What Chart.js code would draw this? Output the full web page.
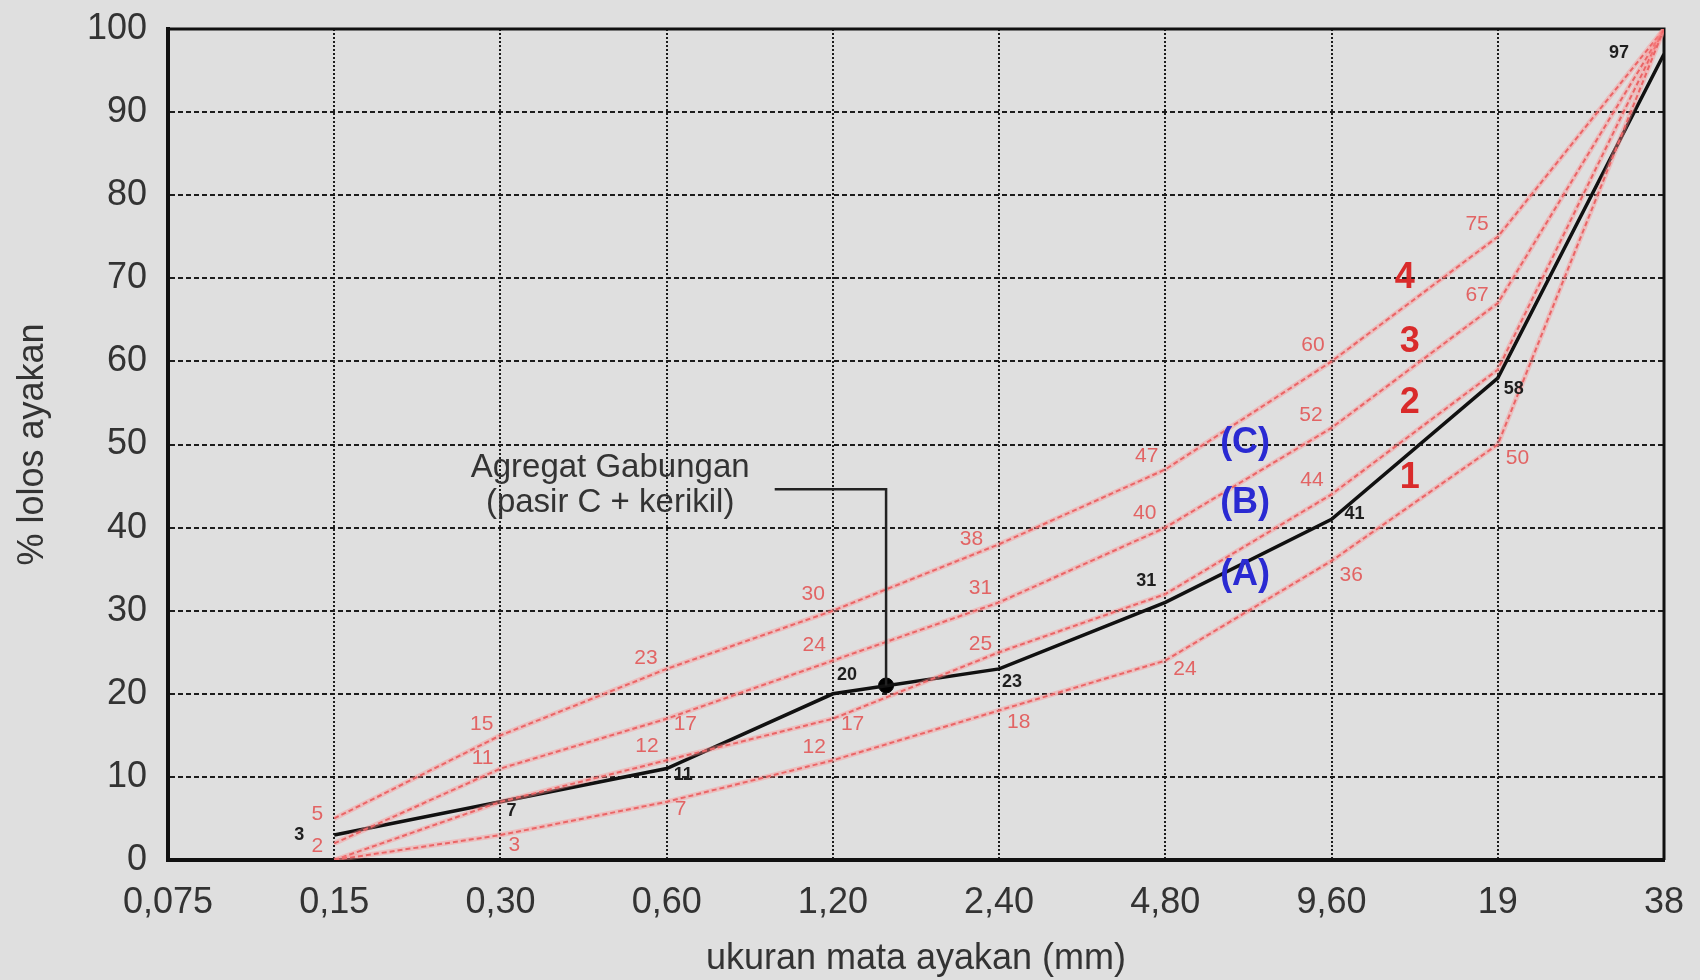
<!DOCTYPE html>
<html>
<head>
<meta charset="utf-8">
<title>Gradasi agregat gabungan</title>
<script src="https://cdn.jsdelivr.net/npm/chart.js@4/dist/chart.umd.min.js"></script>
<style>
  html, body { margin: 0; padding: 0; background: #dfdfdf; }
  #wrap { width: 1700px; height: 980px; }
</style>
</head>
<body>
<div id="wrap"><canvas id="grading" width="1700" height="980"></canvas></div>
<script>
// sieve sizes (mm), equally spaced on the x axis
const sieveLabels = ['0,075', '0,15', '0,30', '0,60', '1,20', '2,40', '4,80', '9,60', '19', '38'];
const yTicks = [0, 10, 20, 30, 40, 50, 60, 70, 80, 90, 100];

// grading curves 1..4 (% lolos), first sieve has no value
const curve1 = [null, 0, 3, 7, 12, 18, 24, 36, 50, 100];
const curve2 = [null, 0, 7, 12, 17, 25, 32, 44, 59, 100];
const curve3 = [null, 2, 11, 17, 24, 31, 40, 52, 67, 100];
const curve4 = [null, 5, 15, 23, 30, 38, 47, 60, 75, 100];

// combined aggregate (pasir C + kerikil)
const gabungan = [null, 3, 7, 11, 20, 23, 31, 41, 58, 97];
const gabunganMarkerX = 4.32;
const gabunganMarkerY = 21;

// which points get a number written next to them
const labels1 = [false, false, true, true, true, true, true, true, true, false];
const labels2 = [false, false, false, true, true, true, false, true, false, false];
const labels3 = [false, true, true, true, true, true, true, true, true, false];
const labels4 = [false, true, true, true, true, true, true, true, true, false];
const labelsG = [false, true, true, true, true, true, true, true, true, true];

// pixel offsets of those numbers from their point [dx, dy, align]
const off1 = [null, null, [8, 10, 'left'], [8, 7, 'left'], [-7, -13, 'right'], [8, 12, 'left'], [8, 9, 'left'], [8, 14, 'left'], [8, 14, 'left'], null];
const off2 = [null, null, null, [-8, -14, 'right'], [8, 5, 'left'], [-7, -8, 'right'], null, [-8, -14, 'right'], null, null];
const off3 = [null, [-11, 3, 'right'], [-7, -10, 'right'], [7, 5, 'left'], [-7, -15, 'right'], [-7, -14, 'right'], [-9, -14, 'right'], [-9, -13, 'right'], [-9, -8, 'right'], null];
const off4 = [null, [-11, -4, 'right'], [-7, -11, 'right'], [-9, -11, 'right'], [-8, -16, 'right'], [-16, -5, 'right'], [-7, -13, 'right'], [-7, -16, 'right'], [-9, -13, 'right'], null];
const offG = [null, [-30, 0, 'right'], [6, 9, 'left'], [7, 6, 'left'], [4, -19, 'left'], [3, 13, 'left'], [-9, -21, 'right'], [13, -5, 'left'], [6, 11, 'left'], [-35, -1, 'right']];

// curve names and zone names, placed in data coordinates
const curveNames = [
  { text: '4', x: 7.44, y: 70 },
  { text: '3', x: 7.47, y: 62.3 },
  { text: '2', x: 7.47, y: 55 },
  { text: '1', x: 7.47, y: 46 }
];
const zoneNames = [
  { text: '(C)', x: 6.48, y: 50.2 },
  { text: '(B)', x: 6.48, y: 42.9 },
  { text: '(A)', x: 6.48, y: 34.3 }
];
const callout = { lines: ['Agregat Gabungan', '(pasir C + kerikil)'], x: 2.66, y: 45.1, lineFromX: 3.65, lineY: 44.6 };

const FONT = '"Liberation Sans", Arial, sans-serif';

function toPoints(arr) {
  return arr.map((v, i) => ({ x: i, y: v }));
}

const datasets = [];
[[curve1, labels1, off1], [curve2, labels2, off2], [curve3, labels3, off3], [curve4, labels4, off4]].forEach(([vals, lab, off]) => {
  datasets.push({
    data: toPoints(vals),
    borderColor: 'rgba(255, 140, 140, 0.4)',
    borderWidth: 5,
    pointRadius: 0
  });
  datasets.push({
    data: toPoints(vals),
    borderColor: '#dd4b4e',
    borderWidth: 2,
    borderDash: [5, 3],
    pointRadius: 0,
    valueLabels: lab,
    labelOffsets: off,
    labelColor: '#e26464',
    labelFont: '21px ' + FONT
  });
});
datasets.push({
  data: toPoints(gabungan),
  borderColor: '#111',
  borderWidth: 3.5,
  pointRadius: 0,
  valueLabels: labelsG,
  labelOffsets: offG,
  labelColor: '#1e1e1e',
  labelFont: 'bold 18px ' + FONT
});
datasets.push({
  data: [{ x: gabunganMarkerX, y: gabunganMarkerY }],
  showLine: false,
  pointRadius: 7.5,
  pointBackgroundColor: '#000',
  pointBorderColor: '#000'
});

const overlay = {
  id: 'overlay',
  beforeDatasetsDraw(chart) {
    const { ctx, chartArea: a } = chart;
    ctx.save();
    ctx.strokeStyle = '#111';
    ctx.lineWidth = 3;
    ctx.beginPath();
    ctx.moveTo(a.left, a.top);
    ctx.lineTo(a.right, a.top);
    ctx.lineTo(a.right, a.bottom);
    ctx.stroke();
    ctx.restore();
  },
  afterDatasetsDraw(chart) {
    const { ctx, scales: { x, y } } = chart;
    ctx.save();
    // value numbers
    chart.data.datasets.forEach((ds) => {
      if (!ds.valueLabels) return;
      ctx.font = ds.labelFont;
      ctx.fillStyle = ds.labelColor;
      ctx.textBaseline = 'middle';
      ds.data.forEach((p, i) => {
        if (!ds.valueLabels[i] || p.y == null) return;
        const o = ds.labelOffsets[i];
        ctx.textAlign = o[2];
        ctx.fillText(String(p.y), x.getPixelForValue(p.x) + o[0], y.getPixelForValue(p.y) + o[1]);
      });
    });
    // curve numbers
    ctx.textAlign = 'center';
    ctx.font = 'bold 36px ' + FONT;
    ctx.fillStyle = '#d92b2b';
    curveNames.forEach((n) => ctx.fillText(n.text, x.getPixelForValue(n.x), y.getPixelForValue(n.y)));
    ctx.fillStyle = '#2a2ad2';
    zoneNames.forEach((n) => ctx.fillText(n.text, x.getPixelForValue(n.x), y.getPixelForValue(n.y)));
    // callout
    const cx = x.getPixelForValue(callout.x);
    const cy = y.getPixelForValue(callout.y);
    ctx.font = '33px ' + FONT;
    ctx.fillStyle = '#333';
    ctx.fillText(callout.lines[0], cx, cy - 17);
    ctx.fillText(callout.lines[1], cx, cy + 18);
    ctx.strokeStyle = '#222';
    ctx.lineWidth = 2.5;
    ctx.beginPath();
    ctx.moveTo(x.getPixelForValue(callout.lineFromX), y.getPixelForValue(callout.lineY));
    ctx.lineTo(x.getPixelForValue(gabunganMarkerX), y.getPixelForValue(callout.lineY));
    ctx.lineTo(x.getPixelForValue(gabunganMarkerX), y.getPixelForValue(gabunganMarkerY));
    ctx.stroke();
    ctx.restore();
  }
};

new Chart(document.getElementById('grading'), {
  type: 'line',
  data: { datasets: datasets },
  plugins: [overlay],
  options: {
    responsive: false,
    animation: false,
    layout: { padding: { top: 29, right: 36, bottom: 0, left: 0 } },
    plugins: { legend: { display: false }, tooltip: { enabled: false } },
    elements: { line: { tension: 0 } },
    scales: {
      x: {
        type: 'linear',
        min: 0,
        max: sieveLabels.length - 1,
        afterFit: (s) => { s.height = 120; },
        afterBuildTicks: (s) => { s.ticks = sieveLabels.map((_, i) => ({ value: i })); },
        ticks: {
          padding: 5,
          color: '#333',
          font: { family: FONT, size: 36 },
          callback: (v) => sieveLabels[v]
        },
        grid: { color: '#1c1c1c', lineWidth: 2, drawTicks: true, tickLength: 16, tickColor: 'rgba(0,0,0,0)' },
        border: { color: '#111', width: 4, dash: [2, 2] },
        title: {
          display: true,
          text: 'ukuran mata ayakan (mm)',
          color: '#333',
          font: { family: FONT, size: 36 },
          padding: { top: 0, bottom: -1 }
        }
      },
      y: {
        min: 0,
        max: 100,
        afterFit: (s) => { s.width = 168; },
        afterBuildTicks: (s) => { s.ticks = yTicks.map((v) => ({ value: v })); },
        ticks: {
          padding: 4,
          color: '#333',
          font: { family: FONT, size: 36 }
        },
        grid: { color: '#1c1c1c', lineWidth: 2, drawTicks: true, tickLength: 17, tickColor: 'rgba(0,0,0,0)' },
        border: { color: '#111', width: 4, dash: [5, 3] },
        title: {
          display: true,
          text: '% lolos ayakan',
          color: '#333',
          font: { family: FONT, size: 36 },
          padding: { top: 11, bottom: 0 }
        }
      }
    }
  }
});
</script>
</body>
</html>
